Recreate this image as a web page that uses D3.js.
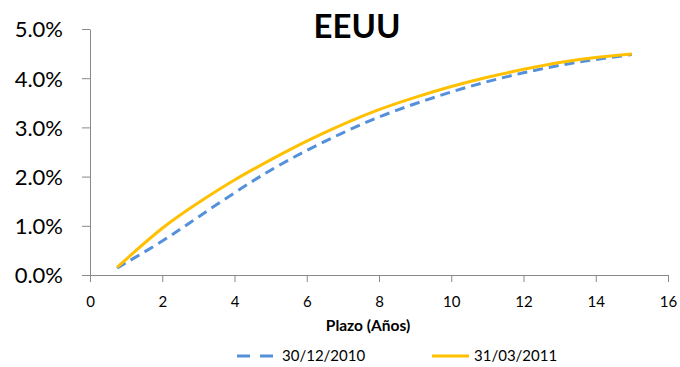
<!DOCTYPE html>
<html>
<head>
<meta charset="utf-8">
<script src="https://cdn.jsdelivr.net/npm/d3@7"></script>
<style>
  body { margin: 0; background: #fff; }
  svg text { font-family: Lato, "Open Sans", sans-serif; fill: #000; }
</style>
</head>
<body>
<div id="vis"></div>
<script>
const FRAME_WIDTH = 680;
const FRAME_HEIGHT = 367;
const MARGINS = {left: 90, right: 12, top: 29, bottom: 92};
const VIS_WIDTH = FRAME_WIDTH - MARGINS.left - MARGINS.right;
const VIS_HEIGHT = FRAME_HEIGHT - MARGINS.top - MARGINS.bottom;

// plazo en años
const plazo = [0.75, 1, 2, 3, 4, 5, 6, 7, 8, 9, 10, 11, 12, 13, 14, 15];
// tasas (%)
const tasa_dic2010 = [0.14, 0.25, 0.69, 1.18, 1.67, 2.13, 2.53, 2.89, 3.21, 3.48, 3.72, 3.93, 4.11, 4.26, 4.38, 4.48];
const tasa_mar2011 = [0.16, 0.32, 0.95, 1.47, 1.93, 2.34, 2.72, 3.06, 3.36, 3.61, 3.83, 4.02, 4.18, 4.32, 4.42, 4.49];
const xTicks = [0, 2, 4, 6, 8, 10, 12, 14, 16];
const yTicks = [0, 1, 2, 3, 4, 5];

const series = [
  {name: "30/12/2010", values: tasa_dic2010, color: "#5590DA", dash: "10,6"},
  {name: "31/03/2011", values: tasa_mar2011, color: "#FFC000", dash: null}
];

const svg = d3.select("#vis")
  .append("svg")
  .attr("width", FRAME_WIDTH)
  .attr("height", FRAME_HEIGHT);

const X_SCALE = d3.scaleLinear().domain([0, 16]).range([0, VIS_WIDTH]);
const Y_SCALE = d3.scaleLinear().domain([0, 5]).range([VIS_HEIGHT, 0]);

const g = svg.append("g")
  .attr("transform", "translate(" + MARGINS.left + "," + MARGINS.top + ")");

// eje x
const xAxis = g.append("g")
  .attr("transform", "translate(0," + VIS_HEIGHT + ")")
  .call(d3.axisBottom(X_SCALE).tickValues(xTicks).tickSize(7).tickSizeOuter(0).tickPadding(14));
xAxis.selectAll("text").attr("font-size", "15px");

// eje y
const yAxis = g.append("g")
  .call(d3.axisLeft(Y_SCALE).tickValues(yTicks).tickSize(8).tickSizeOuter(0).tickPadding(19)
    .tickFormat((d) => d.toFixed(1) + "%"));
yAxis.selectAll("text").attr("font-size", "22px").attr("dy", "0.36em");

svg.selectAll(".domain, .tick line").attr("stroke", "#898989");
svg.selectAll(".tick text").attr("fill", "#000").style("font-family", "Lato, sans-serif");

// lineas
const line = d3.line()
  .x((d) => X_SCALE(d[0]))
  .y((d) => Y_SCALE(d[1]))
  .curve(d3.curveNatural);

series.forEach((s) => {
  g.append("path")
    .datum(plazo.map((p, i) => [p, s.values[i]]))
    .attr("fill", "none")
    .attr("stroke", s.color)
    .attr("stroke-width", 3)
    .attr("stroke-dasharray", s.dash)
    .attr("d", line);
});

// titulo
svg.append("text")
  .attr("x", 357)
  .attr("y", 38)
  .attr("text-anchor", "middle")
  .attr("font-size", "33px")
  .attr("font-weight", "bold")
  .text("EEUU");

svg.append("text")
  .attr("x", 368)
  .attr("y", 331)
  .attr("text-anchor", "middle")
  .attr("font-size", "15.5px")
  .attr("font-weight", "bold")
  .text("Plazo (Años)");

// leyenda
const legendX = [237, 432];
series.forEach((s, i) => {
  const lg = svg.append("g").attr("transform", "translate(" + legendX[i] + ",356)");
  lg.append("line")
    .attr("x1", 0).attr("x2", 37)
    .attr("y1", 0).attr("y2", 0)
    .attr("stroke", s.color)
    .attr("stroke-width", 3)
    .attr("stroke-dasharray", s.dash ? "13,10" : null);
  lg.append("text")
    .attr("x", s.dash ? 45 : 42)
    .attr("y", 5)
    .attr("font-size", "15px")
    .text(s.name);
});
</script>
</body>
</html>
